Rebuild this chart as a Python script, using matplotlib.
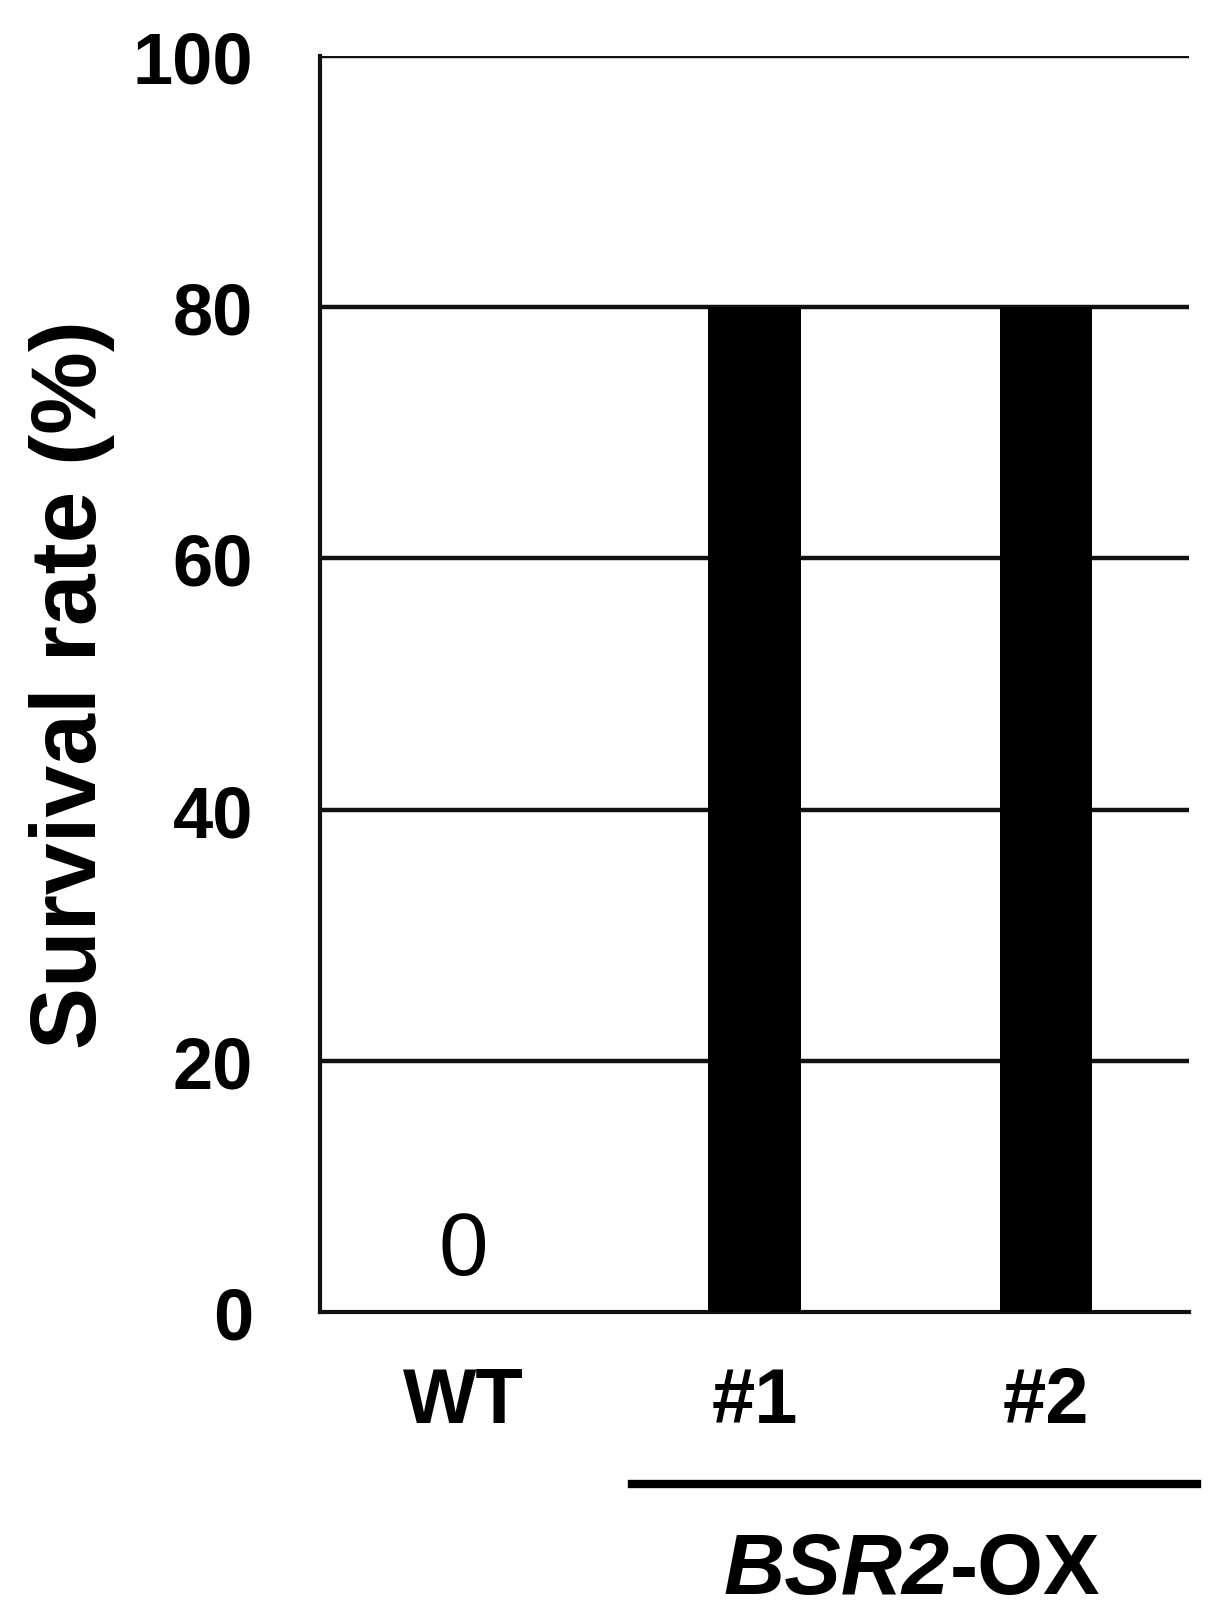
import matplotlib
matplotlib.use('Agg')
import matplotlib.pyplot as plt

plt.rcParams['font.family'] = ['Liberation Sans', 'DejaVu Sans']

# data
groups = ['WT', '#1', '#2']
survival = [0, 80, 80]
yticks = [0, 20, 40, 60, 80, 100]

W, H = 1217, 1615
fig = plt.figure(figsize=(W / 100, H / 100), dpi=100)
ax = fig.add_axes([320 / W, 1 - 1313 / H, (1189 - 320) / W, (1313 - 57) / H])

x = list(range(len(groups)))
ax.bar(x, survival, width=0.316, color='black', zorder=3)

ax.set_xlim(-0.49, 2.49)
ax.set_ylim(0, 100)
ax.set_yticks(yticks)
ax.set_yticklabels([str(t) for t in yticks], fontsize=52, fontweight='bold')
ax.set_xticks(x)
ax.set_xticklabels(groups, fontsize=56, fontweight='bold')
ax.tick_params(axis='y', length=0, pad=48)
ax.tick_params(axis='x', length=0, pad=38)

for t in yticks[1:]:
    ax.axhline(t, color='#111111', lw=3.2, zorder=1)

for s in ['top', 'right']:
    ax.spines[s].set_visible(False)
for s in ['left', 'bottom']:
    ax.spines[s].set_linewidth(3.0)
    ax.spines[s].set_color('#111111')

# value label for zero bar
for xi, v in zip(x, survival):
    if v == 0:
        ax.annotate(str(v), (xi, v), xytext=(0, 27), textcoords='offset points',
                    ha='center', va='baseline', fontsize=64)

fig.text(72 / W, 1 - 685 / H, 'Survival rate (%)', rotation=90, ha='center',
         va='center', fontsize=67, fontweight='bold')

# bracket for the transgenic lines
fig.add_artist(plt.Line2D([632 / W, 1197 / W], [1 - 1485 / H, 1 - 1485 / H],
                          color='black', lw=6, transform=fig.transFigure))
fig.text(950 / W, 1 - 1594 / H, 'BSR2', ha='right', va='baseline', fontsize=61,
         fontweight='bold', style='italic')
fig.text(950 / W, 1 - 1594 / H, '-OX', ha='left', va='baseline', fontsize=61,
         fontweight='bold')

fig.savefig('out.png', dpi=100)
